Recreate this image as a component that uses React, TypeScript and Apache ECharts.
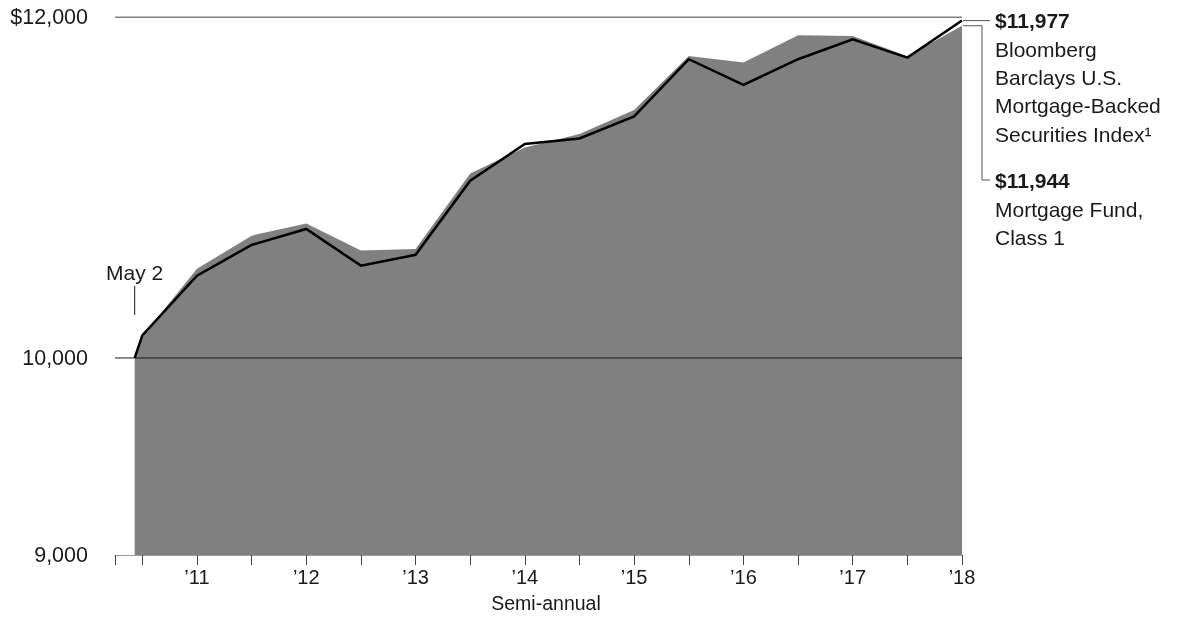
import React, { useEffect, useRef } from "react";
import * as echarts from "echarts";

const dates = [2010.43, 2010.5, 2011, 2011.5, 2012, 2012.5, 2013, 2013.5, 2014, 2014.5, 2015, 2015.5, 2016, 2016.5, 2017, 2017.5, 2018];
const indexValues = [10000, 10121, 10450, 10623, 10714, 10506, 10567, 10994, 11212, 11245, 11379, 11732, 11572, 11732, 11858, 11742, 11977];
const fundValues = [10000, 10115, 10488, 10676, 10746, 10591, 10600, 11037, 11191, 11272, 11418, 11753, 11711, 11883, 11879, 11750, 11944];
const xTicks = [2010.25, 2010.5, 2011, 2011.5, 2012, 2012.5, 2013, 2013.5, 2014, 2014.5, 2015, 2015.5, 2016, 2016.5, 2017, 2017.5, 2018];
const xLabels = [2011, 2012, 2013, 2014, 2015, 2016, 2017, 2018];
const yLabels = [9000, 10000, 12000];
const refLines = [10000, 12000];
const indexLabel = ["Bloomberg", "Barclays U.S.", "Mortgage-Backed", "Securities Index\u00b9"];
const fundLabel = ["Mortgage Fund,", "Class 1"];

const FONT = "Liberation Sans";
const FS = 21;
const TXT = "#1a1a1a";

export default function App() {
  const ref = useRef<HTMLDivElement>(null);
  useEffect(() => {
    const chart = echarts.init(ref.current!, null, { renderer: "svg" });
    const xMin = 2010.25;
    const xMax = 2018;
    const option: any = {
      animation: false,
      textStyle: { fontFamily: FONT },
      grid: { left: 115, right: 223, top: 17, bottom: 62, containLabel: false },
      xAxis: {
        type: "value",
        min: xMin,
        max: xMax,
        splitLine: { show: false },
        axisLine: { show: true, lineStyle: { color: "#9a9a9a", width: 1 } },
        axisTick: { show: true, customValues: xTicks, length: 10, lineStyle: { color: "#444", width: 1 } },
        axisLabel: {
          customValues: xLabels,
          formatter: (v: number) => "\u2019" + String(Math.round(v)).slice(2),
          color: TXT,
          fontFamily: FONT,
          fontSize: 20,
          margin: 12,
        },
      },
      yAxis: {
        type: "log",
        logBase: 10,
        min: 9000,
        max: 12000,
        splitLine: { show: false },
        axisLine: { show: false },
        axisTick: { show: false },
        axisLabel: {
          customValues: yLabels,
          formatter: (v: number) => (Math.round(v) === 12000 ? "$" : "") + Math.round(v).toLocaleString("en-US"),
          color: TXT,
          fontFamily: FONT,
          fontSize: 21.5,
          margin: 27,
        },
      },
      series: [
        {
          type: "line",
          name: "fund",
          data: dates.map((d, i) => [d, fundValues[i]]),
          symbol: "none",
          lineStyle: { width: 0 },
          areaStyle: { color: "#808080", opacity: 1, origin: "start" },
          z: 1,
        },
        ...refLines.map((v) => ({
          type: "line",
          data: [
            [xMin, v],
            [xMax, v],
          ],
          symbol: "none",
          lineStyle: { color: v === 12000 ? "#000" : "#1a1a1a", width: 1 },
          z: 2,
        })),
        {
          type: "line",
          name: "index",
          data: dates.map((d, i) => [d, indexValues[i]]),
          symbol: "none",
          lineStyle: { color: "#000", width: 2.5, join: "miter" },
          z: 3,
        },
      ],
    };
    chart.setOption(option);

    const last = dates.length - 1;
    const pIdx = chart.convertToPixel({ gridIndex: 0 }, [dates[last], indexValues[last]]) as number[];
    const pFund = chart.convertToPixel({ gridIndex: 0 }, [dates[last], fundValues[last]]) as number[];
    const pStart = chart.convertToPixel({ gridIndex: 0 }, [dates[0], 10000]) as number[];

    const tx = 995;
    const lh = 28.3;
    const capMid = 0.35 * FS;
    const graphics: any[] = [];
    const lineStyle = { stroke: "#555", lineWidth: 1 };
    graphics.push({ type: "line", shape: { x1: pIdx[0] + 1, y1: pIdx[1], x2: 990, y2: pIdx[1] }, style: lineStyle });
    const fundLabelBase = 188.3;
    const cornerY = fundLabelBase - capMid - 1;
    graphics.push({
      type: "polyline",
      shape: { points: [[pFund[0] + 1, pFund[1]], [982, pFund[1]], [982, cornerY], [990, cornerY]] },
      style: { ...lineStyle, fill: "none" },
    });
    const idxBase = 28.3;
    graphics.push({
      type: "text",
      x: tx,
      y: idxBase - capMid,
      style: { text: "$11,977", fontFamily: FONT, fontSize: FS, fontWeight: "bold", fill: TXT, verticalAlign: "middle", align: "left" },
    });
    indexLabel.forEach((t, i) => {
      graphics.push({
        type: "text",
        x: tx,
        y: idxBase + lh * (i + 1) - capMid,
        style: { text: t, fontFamily: FONT, fontSize: FS, fill: TXT, verticalAlign: "middle", align: "left" },
      });
    });
    graphics.push({
      type: "text",
      x: tx,
      y: fundLabelBase - capMid,
      style: { text: "$11,944", fontFamily: FONT, fontSize: FS, fontWeight: "bold", fill: TXT, verticalAlign: "middle", align: "left" },
    });
    fundLabel.forEach((t, i) => {
      graphics.push({
        type: "text",
        x: tx,
        y: fundLabelBase + lh * (i + 1) - capMid,
        style: { text: t, fontFamily: FONT, fontSize: FS, fill: TXT, verticalAlign: "middle", align: "left" },
      });
    });
    graphics.push({
      type: "text",
      x: pStart[0],
      y: 272,
      style: { text: "May 2", fontFamily: FONT, fontSize: 21, fill: TXT, verticalAlign: "middle", align: "center" },
    });
    graphics.push({ type: "line", shape: { x1: pStart[0], y1: 286, x2: pStart[0], y2: 315 }, style: { stroke: "#1a1a1a", lineWidth: 1 } });
    graphics.push({
      type: "text",
      x: 546,
      y: 603,
      style: { text: "Semi-annual", fontFamily: FONT, fontSize: 19.5, fill: TXT, verticalAlign: "middle", align: "center" },
    });
    chart.setOption({ graphic: graphics });

    return () => chart.dispose();
  }, []);
  return <div ref={ref} style={{ position: "fixed", left: 0, top: 0, width: 1185, height: 617 }} />;
}
